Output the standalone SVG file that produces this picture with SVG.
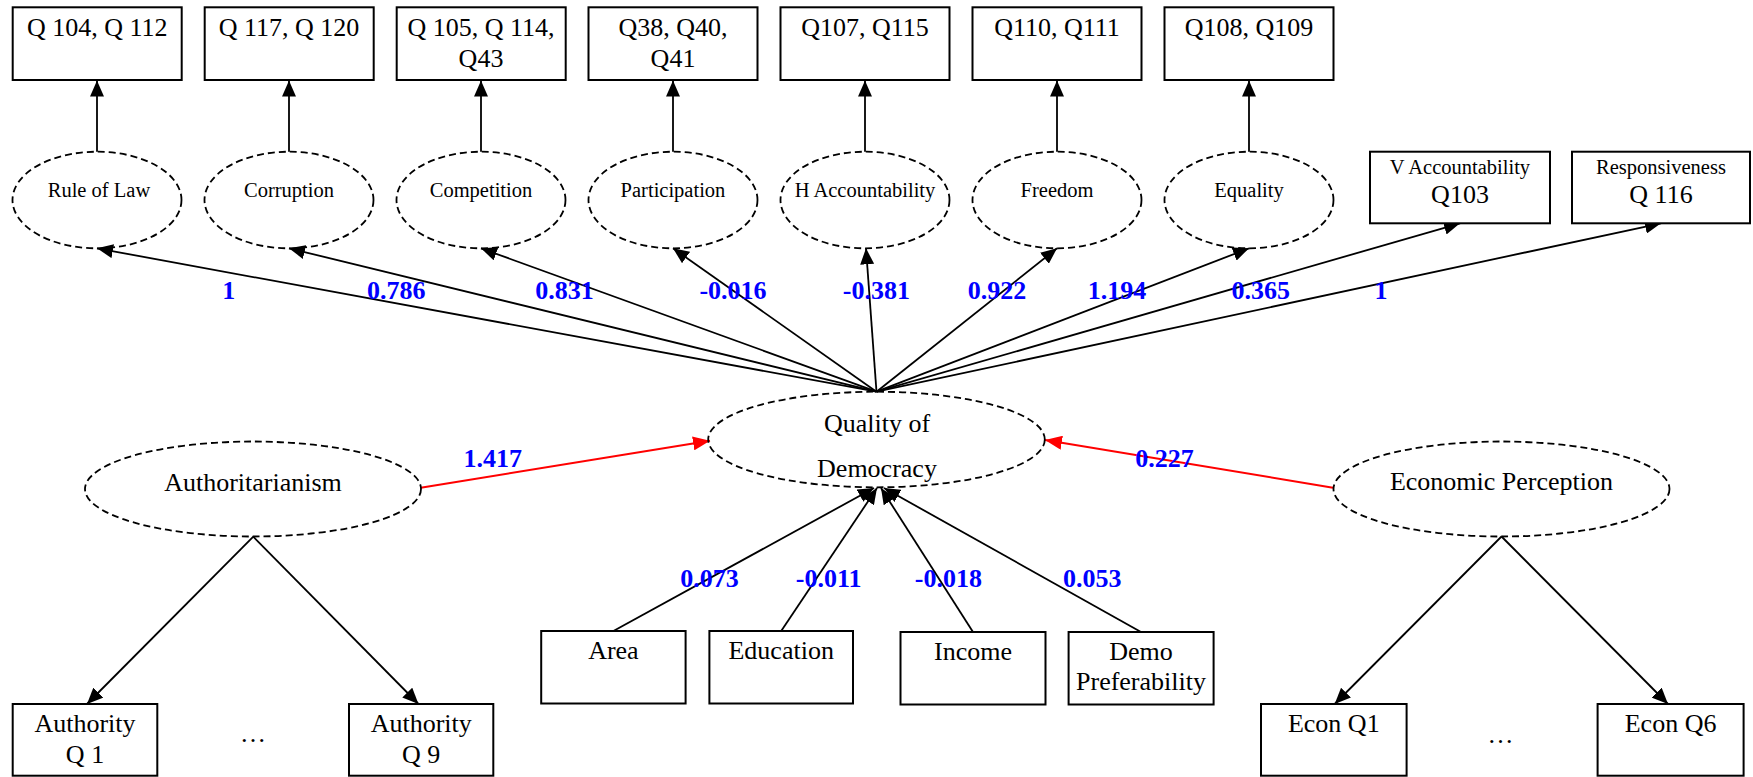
<svg xmlns="http://www.w3.org/2000/svg" width="1753" height="777" viewBox="0 0 1753 777">
<style>
  text { font-family: "Liberation Serif", "Times New Roman", serif; fill: #000; text-anchor: middle; }
  .big { font-size: 26px; }
  .small { font-size: 20.5px; }
  .lbl { font-size: 26px; font-weight: bold; fill: #0000ff; }
  .box { fill: #fff; stroke: #000; stroke-width: 2; }
  .lat { fill: none; stroke: #000; stroke-width: 1.8; stroke-dasharray: 7,4; }
  .edge { stroke: #000; stroke-width: 1.8; fill: none; marker-end: url(#ah); }
  .red { stroke: #ff0000; stroke-width: 2; fill: none; marker-end: url(#ahr); }
</style>
<defs>
  <marker id="ah" markerUnits="userSpaceOnUse" viewBox="0 0 16 14" refX="16" refY="7" markerWidth="16" markerHeight="14" orient="auto">
    <path d="M0,0 L16,7 L0,14 z" fill="#000"/>
  </marker>
  <marker id="ahr" markerUnits="userSpaceOnUse" viewBox="0 0 17 14" refX="17" refY="7" markerWidth="17" markerHeight="14" orient="auto">
    <path d="M0,0 L17,7 L0,14 z" fill="#ff0000"/>
  </marker>
</defs>
<rect width="1753" height="777" fill="#fff"/>

<g id="connectors">
  <line class="edge" x1="97" y1="151.7" x2="97" y2="80.5"/>
  <line class="edge" x1="289" y1="151.7" x2="289" y2="80.5"/>
  <line class="edge" x1="481" y1="151.7" x2="481" y2="80.5"/>
  <line class="edge" x1="673" y1="151.7" x2="673" y2="80.5"/>
  <line class="edge" x1="865" y1="151.7" x2="865" y2="80.5"/>
  <line class="edge" x1="1057" y1="151.7" x2="1057" y2="80.5"/>
  <line class="edge" x1="1249" y1="151.7" x2="1249" y2="80.5"/>

  <line class="edge" x1="876.5" y1="391.7" x2="97" y2="248.3"/>
  <line class="edge" x1="876.5" y1="391.7" x2="289" y2="248.3"/>
  <line class="edge" x1="876.5" y1="391.7" x2="481" y2="248.3"/>
  <line class="edge" x1="876.5" y1="391.7" x2="673" y2="248.3"/>
  <line class="edge" x1="876.5" y1="391.7" x2="866" y2="248.3"/>
  <line class="edge" x1="876.5" y1="391.7" x2="1057" y2="248.3"/>
  <line class="edge" x1="876.5" y1="391.7" x2="1249" y2="248.3"/>
  <line class="edge" x1="876.5" y1="391.7" x2="1460" y2="223.3"/>
  <line class="edge" x1="876.5" y1="391.7" x2="1661" y2="223.3"/>

  <line class="red" x1="420.7" y1="487.7" x2="710" y2="440.7"/>
  <line class="red" x1="1333" y1="487.7" x2="1045" y2="440"/>

  <line class="edge" x1="613.4" y1="631" x2="874" y2="488"/>
  <line class="edge" x1="781.2" y1="631" x2="877" y2="488"/>
  <line class="edge" x1="973" y1="632" x2="881" y2="488"/>
  <line class="edge" x1="1141" y1="632" x2="884" y2="488"/>

  <line class="edge" x1="253.3" y1="536.7" x2="87" y2="704"/>
  <line class="edge" x1="253.3" y1="536.7" x2="418.5" y2="704"/>
  <line class="edge" x1="1501.5" y1="536.5" x2="1334.7" y2="704"/>
  <line class="edge" x1="1501.5" y1="536.5" x2="1668" y2="704"/>

  <text class="lbl" x="228.8" y="299.3">1</text>
  <text class="lbl" x="396.3" y="299.3">0.786</text>
  <text class="lbl" x="564.6" y="299.3">0.831</text>
  <text class="lbl" x="733" y="299.3">-0.016</text>
  <text class="lbl" x="876.4" y="299.3">-0.381</text>
  <text class="lbl" x="996.9" y="299.3">0.922</text>
  <text class="lbl" x="1117" y="299.3">1.194</text>
  <text class="lbl" x="1260.8" y="299.3">0.365</text>
  <text class="lbl" x="1380.9" y="299.3">1</text>
  <text class="lbl" x="492.7" y="467.3">1.417</text>
  <text class="lbl" x="1164.5" y="466.7">0.227</text>
  <text class="lbl" x="709.4" y="587.3">0.073</text>
  <text class="lbl" x="828.6" y="587.3">-0.011</text>
  <text class="lbl" x="948.4" y="587.3">-0.018</text>
  <text class="lbl" x="1092.3" y="587.3">0.053</text>
</g>

<g id="box-q104">
  <rect class="box" x="12.7" y="7.3" width="169" height="72.7"/>
  <text class="big" x="97.2" y="36">Q 104, Q 112</text>
</g>
<g id="box-q117">
  <rect class="box" x="204.7" y="7.3" width="169" height="72.7"/>
  <text class="big" x="289" y="36">Q 117, Q 120</text>
</g>
<g id="box-q105">
  <rect class="box" x="396.7" y="7.3" width="169" height="72.7"/>
  <text class="big" x="481" y="36">Q 105, Q 114,</text>
  <text class="big" x="481" y="67">Q43</text>
</g>
<g id="box-q38">
  <rect class="box" x="588.5" y="7.3" width="169" height="72.7"/>
  <text class="big" x="673" y="36">Q38, Q40,</text>
  <text class="big" x="673" y="67">Q41</text>
</g>
<g id="box-q107">
  <rect class="box" x="780.5" y="7.3" width="169" height="72.7"/>
  <text class="big" x="865" y="36">Q107, Q115</text>
</g>
<g id="box-q110">
  <rect class="box" x="972.5" y="7.3" width="169" height="72.7"/>
  <text class="big" x="1057" y="36">Q110, Q111</text>
</g>
<g id="box-q108">
  <rect class="box" x="1164.5" y="7.3" width="169" height="72.7"/>
  <text class="big" x="1249" y="36">Q108, Q109</text>
</g>

<g id="rule-of-law">
  <ellipse class="lat" cx="97" cy="200" rx="84.5" ry="48.3"/>
  <text class="small" x="99" y="197">Rule of Law</text>
</g>
<g id="corruption">
  <ellipse class="lat" cx="289" cy="200" rx="84.5" ry="48.3"/>
  <text class="small" x="289" y="197">Corruption</text>
</g>
<g id="competition">
  <ellipse class="lat" cx="481" cy="200" rx="84.5" ry="48.3"/>
  <text class="small" x="481" y="197">Competition</text>
</g>
<g id="participation">
  <ellipse class="lat" cx="673" cy="200" rx="84.5" ry="48.3"/>
  <text class="small" x="673" y="197">Participation</text>
</g>
<g id="h-accountability">
  <ellipse class="lat" cx="865" cy="200" rx="84.5" ry="48.3"/>
  <text class="small" x="865" y="197">H Accountability</text>
</g>
<g id="freedom">
  <ellipse class="lat" cx="1057" cy="200" rx="84.5" ry="48.3"/>
  <text class="small" x="1057" y="197">Freedom</text>
</g>
<g id="equality">
  <ellipse class="lat" cx="1249" cy="200" rx="84.5" ry="48.3"/>
  <text class="small" x="1249" y="197">Equality</text>
</g>

<g id="v-accountability">
  <rect class="box" x="1370" y="151.7" width="180" height="71.6"/>
  <text class="small" x="1460" y="174">V Accountability</text>
  <text class="big" x="1460" y="203.3">Q103</text>
</g>
<g id="responsiveness">
  <rect class="box" x="1572" y="151.7" width="178" height="71.6"/>
  <text class="small" x="1661" y="174">Responsiveness</text>
  <text class="big" x="1661" y="203.3">Q 116</text>
</g>

<g id="quality-of-democracy">
  <ellipse class="lat" cx="876.5" cy="439.5" rx="168.3" ry="47.8"/>
  <text class="big" x="877" y="432">Quality of</text>
  <text class="big" x="877" y="477">Democracy</text>
</g>

<g id="authoritarianism">
  <ellipse class="lat" cx="253" cy="489" rx="168" ry="47.5"/>
  <text class="big" x="253" y="491">Authoritarianism</text>
</g>
<g id="economic-perception">
  <ellipse class="lat" cx="1501.5" cy="489" rx="168" ry="47.5"/>
  <text class="big" x="1501.5" y="490">Economic Perception</text>
</g>

<g id="area">
  <rect class="box" x="541.2" y="631" width="144.4" height="72.5"/>
  <text class="big" x="613.4" y="658.5">Area</text>
</g>
<g id="education">
  <rect class="box" x="709.4" y="631" width="143.6" height="72.5"/>
  <text class="big" x="781.2" y="658.5">Education</text>
</g>
<g id="income">
  <rect class="box" x="900.5" y="632" width="145" height="72.5"/>
  <text class="big" x="973" y="660">Income</text>
</g>
<g id="demo-preferability">
  <rect class="box" x="1068.6" y="632" width="145" height="72.5"/>
  <text class="big" x="1141" y="660">Demo</text>
  <text class="big" x="1141" y="690">Preferability</text>
</g>

<g id="authority-q1">
  <rect class="box" x="12.7" y="704" width="144.6" height="71.7"/>
  <text class="big" x="85" y="731.7">Authority</text>
  <text class="big" x="85" y="762.7">Q 1</text>
</g>
<g id="authority-dots">
  <text class="big" x="253" y="742">…</text>
</g>
<g id="authority-q9">
  <rect class="box" x="349" y="704" width="144.3" height="71.7"/>
  <text class="big" x="421.2" y="731.7">Authority</text>
  <text class="big" x="421.2" y="762.7">Q 9</text>
</g>

<g id="econ-q1">
  <rect class="box" x="1261" y="704" width="145.6" height="71.7"/>
  <text class="big" x="1333.8" y="731.7">Econ Q1</text>
</g>
<g id="econ-dots">
  <text class="big" x="1500.5" y="743">…</text>
</g>
<g id="econ-q6">
  <rect class="box" x="1597.6" y="704" width="146" height="71.7"/>
  <text class="big" x="1670.6" y="731.7">Econ Q6</text>
</g>
</svg>
